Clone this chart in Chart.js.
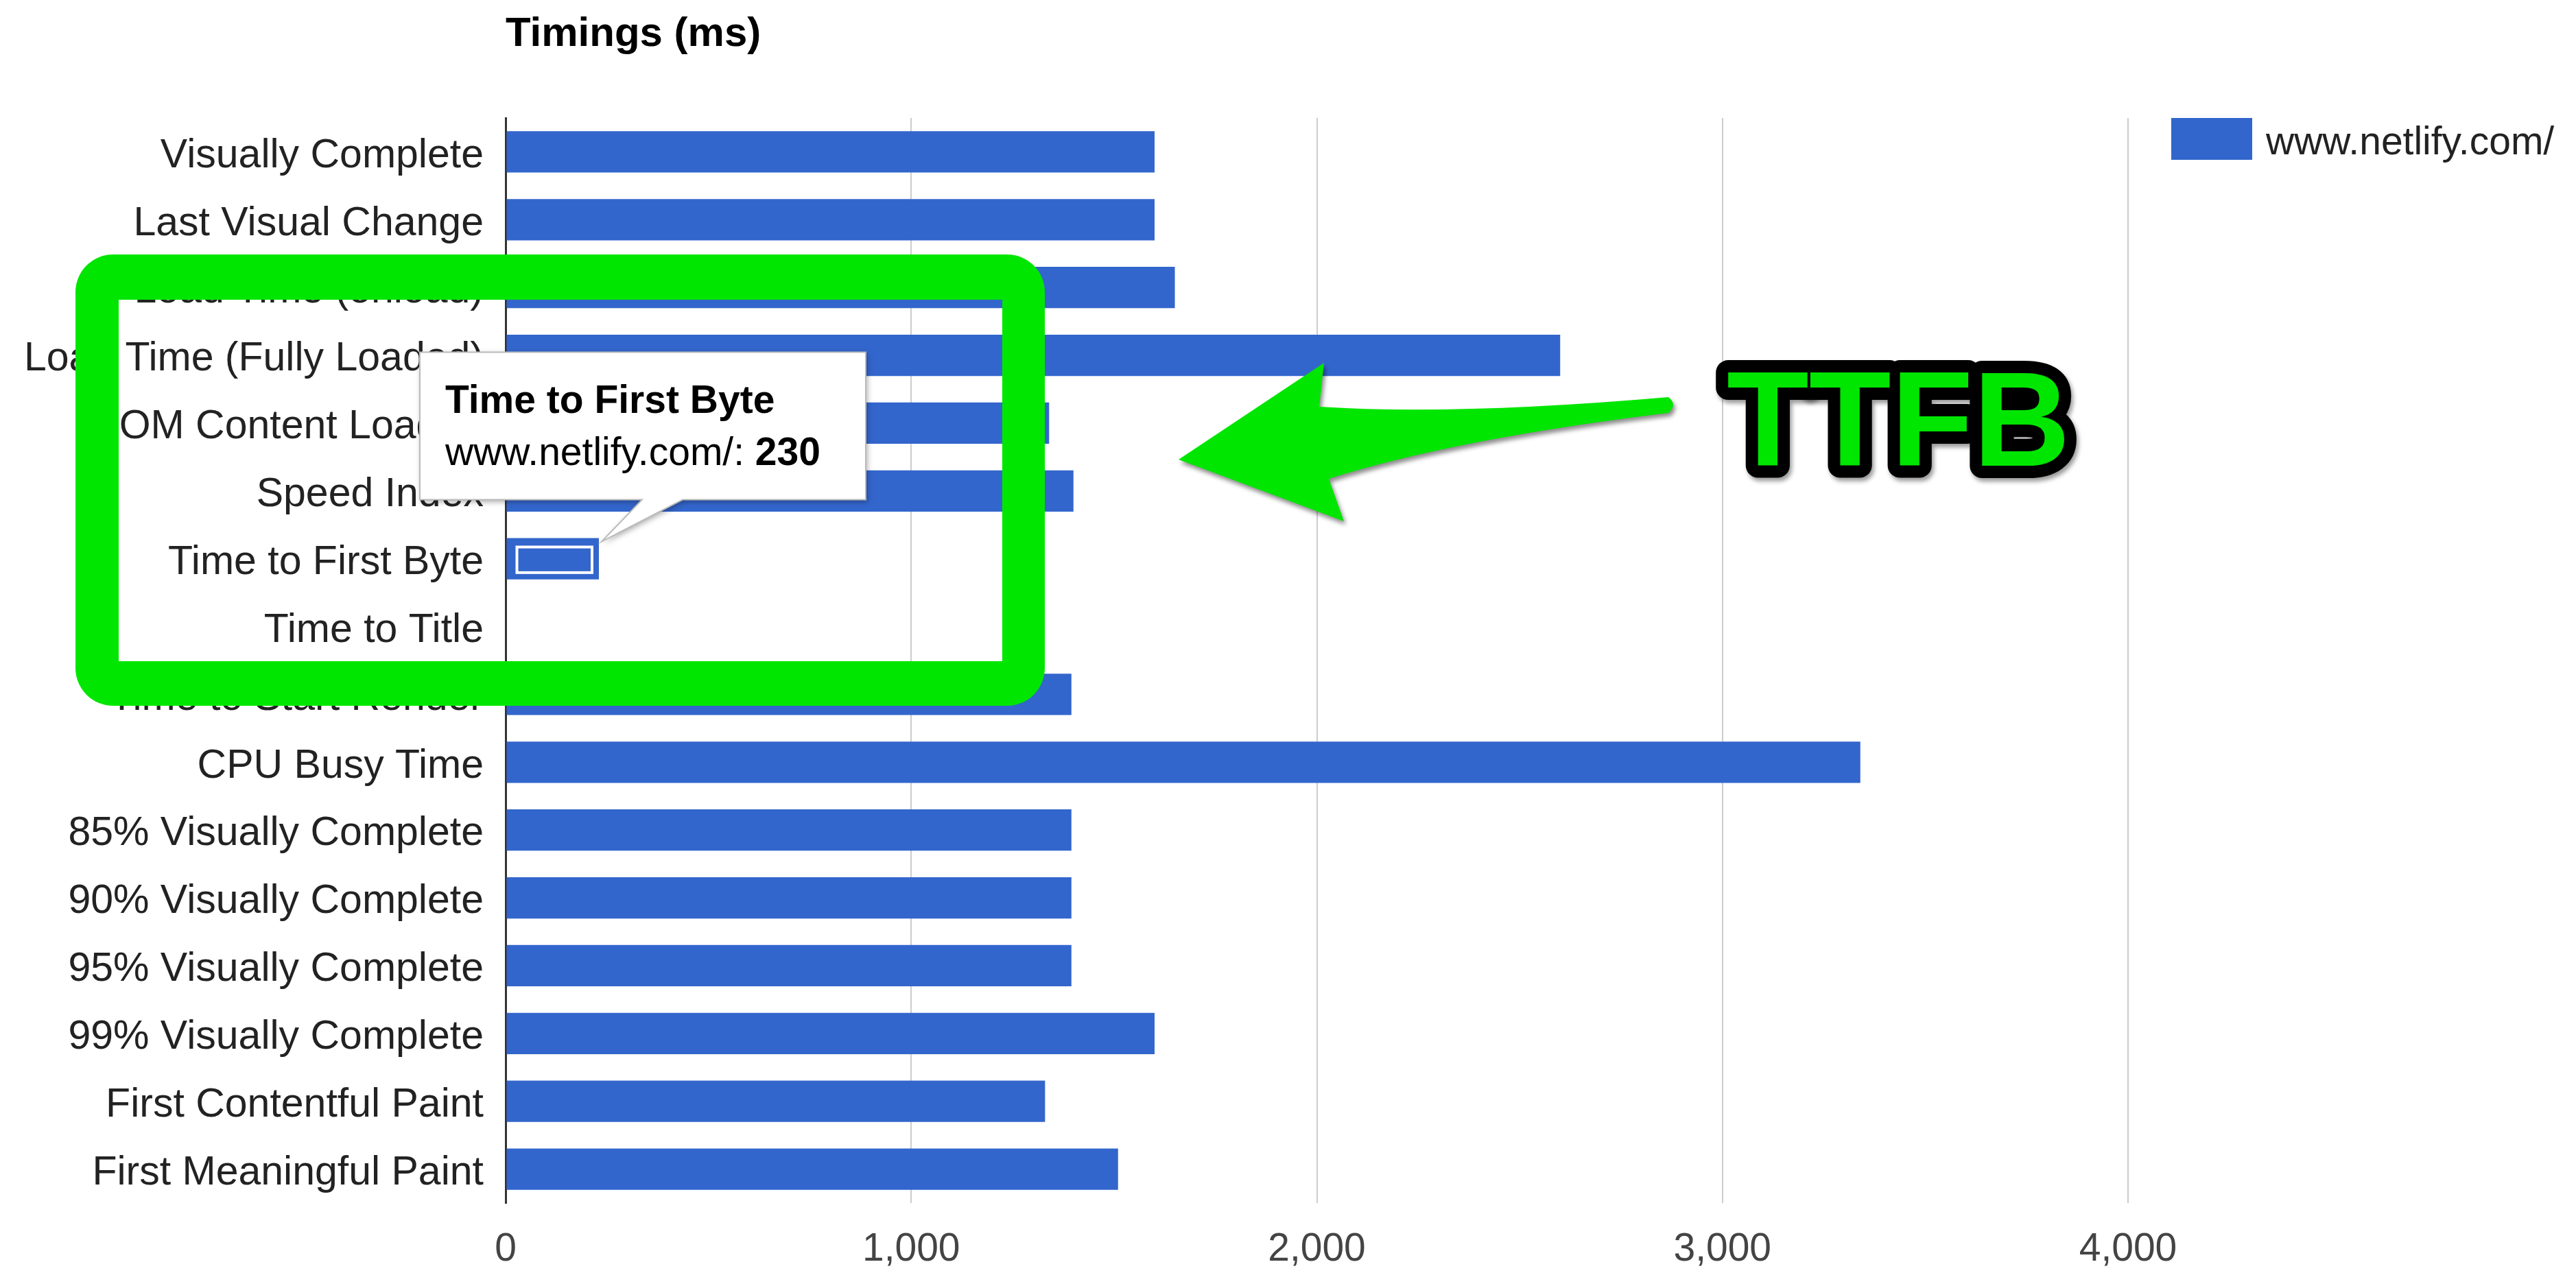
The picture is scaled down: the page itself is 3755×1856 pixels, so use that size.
<!DOCTYPE html>
<html>
<head>
<meta charset="utf-8">
<title>Timings (ms)</title>
<script src="https://cdn.jsdelivr.net/npm/chart.js@4.4.1/dist/chart.umd.min.js"></script>
<style>
  html, body { margin: 0; padding: 0; background: #fff; }
  #wrap { width: 3755px; height: 1856px; }
</style>
</head>
<body>
<div id="wrap"><canvas id="barTimings"></canvas></div>
<script>
// dados do grafico de timings
const categorias = [
    'Visually Complete', 'Last Visual Change', 'Load Time (onload)', 'Load Time (Fully Loaded)',
    'DOM Content Loaded', 'Speed Index', 'Time to First Byte', 'Time to Title',
    'Time to Start Render', 'CPU Busy Time', '85% Visually Complete', '90% Visually Complete',
    '95% Visually Complete', '99% Visually Complete', 'First Contentful Paint', 'First Meaningful Paint'
];
const valoresNetlify = [1600, 1600, 1650, 2600, 1340, 1400, 230, 0, 1395, 3340, 1395, 1395, 1395, 1600, 1330, 1510];
const ticksX = [0, 1000, 2000, 3000, 4000];
const serieNome = 'www.netlify.com/';
const tituloTexto = 'Timings (ms)';
const destaqueIndice = 6; // Time to First Byte
const anotacaoTexto = 'TTFB';

const fonte = "'Liberation Sans', Arial, Helvetica, sans-serif";
const azul = '#3366cc';
const verde = '#00e600';

// titulo, legenda, tooltip e anotacoes em verde
const extrasPlugin = {
    id: 'extras',
    afterDraw(chart) {
        const ctx = chart.ctx;
        const area = chart.chartArea;
        const ds = chart.data.datasets[0];
        const bar = chart.getDatasetMeta(0).data[destaqueIndice];

        ctx.save();
        ctx.textAlign = 'left';

        // titulo
        ctx.fillStyle = '#000';
        ctx.font = 'bold 60px ' + fonte;
        ctx.textBaseline = 'alphabetic';
        ctx.fillText(tituloTexto, area.left, 67);

        // legenda
        ctx.fillStyle = ds.backgroundColor;
        ctx.fillRect(area.right + 63, 172, 118, 61);
        ctx.fillStyle = '#222';
        ctx.font = '57px ' + fonte;
        ctx.textBaseline = 'middle';
        ctx.fillText(ds.label, area.right + 201, 209);

        // barra selecionada
        const top = bar.y - bar.height / 2;
        const w = bar.x - bar.base;
        ctx.strokeStyle = '#fff';
        ctx.lineWidth = 4;
        ctx.strokeRect(bar.base + 15, top + 13, w - 25, bar.height - 23);

        // tooltip
        const tipX = bar.x + 4, tipY = top + 5;
        const bx = tipX - 265, by = tipY - 276, bw = 650, bh = 215;
        ctx.beginPath();
        ctx.moveTo(bx, by);
        ctx.lineTo(bx + bw, by);
        ctx.lineTo(bx + bw, by + bh);
        ctx.lineTo(tipX + 118, by + bh);
        ctx.lineTo(tipX, tipY);
        ctx.lineTo(tipX + 59, by + bh);
        ctx.lineTo(bx, by + bh);
        ctx.closePath();
        ctx.save();
        ctx.shadowColor = 'rgba(0,0,0,0.35)';
        ctx.shadowBlur = 8;
        ctx.shadowOffsetX = 2;
        ctx.shadowOffsetY = 3;
        ctx.fillStyle = '#fff';
        ctx.fill();
        ctx.restore();
        ctx.strokeStyle = '#bbb';
        ctx.lineWidth = 2;
        ctx.stroke();

        ctx.fillStyle = '#000';
        ctx.textBaseline = 'alphabetic';
        ctx.font = 'bold 57px ' + fonte;
        ctx.fillText(chart.data.labels[destaqueIndice], bx + 37, by + 88);
        ctx.font = '57px ' + fonte;
        const prefixo = ds.label + ': ';
        ctx.fillText(prefixo, bx + 37, by + 164);
        const pw = ctx.measureText(prefixo).width;
        ctx.font = 'bold 57px ' + fonte;
        ctx.fillText(String(ds.data[destaqueIndice]), bx + 37 + pw, by + 164);

        // moldura verde
        ctx.beginPath();
        const ox = 110, oy = 371, ow = 1413, oh = 658, r = 55;
        ctx.moveTo(ox + r, oy);
        ctx.arcTo(ox + ow, oy, ox + ow, oy + oh, r);
        ctx.arcTo(ox + ow, oy + oh, ox, oy + oh, r);
        ctx.arcTo(ox, oy + oh, ox, oy, r);
        ctx.arcTo(ox, oy, ox + ow, oy, r);
        ctx.closePath();
        ctx.rect(173, 437, 1288, 527);
        ctx.fillStyle = verde;
        ctx.fill('evenodd');

        // seta verde
        ctx.save();
        ctx.shadowColor = 'rgba(0,0,0,0.45)';
        ctx.shadowBlur = 6;
        ctx.shadowOffsetX = 3;
        ctx.shadowOffsetY = 5;
        ctx.beginPath();
        ctx.moveTo(1718, 670);
        ctx.lineTo(1930, 529);
        ctx.lineTo(1923, 593);
        ctx.quadraticCurveTo(2120, 606, 2432, 579);
        ctx.quadraticCurveTo(2446, 590, 2432, 602);
        ctx.quadraticCurveTo(2120, 640, 1937, 698);
        ctx.lineTo(1959, 760);
        ctx.closePath();
        ctx.fillStyle = verde;
        ctx.fill();
        ctx.restore();

        // texto TTFB
        ctx.font = 'bold 196px ' + fonte;
        ctx.textBaseline = 'alphabetic';
        ctx.lineJoin = 'round';
        ctx.save();
        ctx.shadowColor = 'rgba(0,0,0,0.4)';
        ctx.shadowBlur = 6;
        ctx.shadowOffsetX = 3;
        ctx.shadowOffsetY = 5;
        ctx.strokeStyle = '#000';
        ctx.lineWidth = 36;
        ctx.strokeText(anotacaoTexto, 2517, 679);
        ctx.restore();
        ctx.fillStyle = verde;
        ctx.fillText(anotacaoTexto, 2517, 679);

        ctx.restore();
    }
};

const dadosTimings = {
    labels: categorias,
    datasets: [{
        label: serieNome,
        data: valoresNetlify,
        backgroundColor: azul,
        borderWidth: 0,
        barPercentage: 0.61,
        categoryPercentage: 1.0
    }]
};

const configTimings = {
    type: 'bar',
    data: dadosTimings,
    options: {
        indexAxis: 'y',
        responsive: true,
        maintainAspectRatio: false,
        animation: false,
        layout: {
            padding: { top: 172, right: 653, bottom: 0, left: 0 }
        },
        scales: {
            x: {
                min: ticksX[0],
                max: ticksX[ticksX.length - 1],
                afterBuildTicks: (scale) => {
                    scale.ticks = ticksX.map(v => ({ value: v }));
                },
                afterFit: (scale) => { scale.height = 102; },
                grid: {
                    drawTicks: false,
                    color: (c) => (c.tick && c.tick.value === 0) ? '#333' : '#ccc',
                    lineWidth: (c) => (c.tick && c.tick.value === 0) ? 3 : 2
                },
                border: { display: false },
                ticks: {
                    padding: 34,
                    color: '#444',
                    font: { size: 57, family: fonte }
                }
            },
            y: {
                afterFit: (scale) => { scale.width = 737; },
                grid: { display: false, drawTicks: false },
                border: { display: true, color: '#333', width: 3 },
                ticks: {
                    autoSkip: false,
                    padding: 32,
                    labelOffset: 6,
                    color: '#222',
                    font: { size: 59, family: fonte }
                }
            }
        },
        plugins: {
            legend: { display: false },
            title: { display: false },
            tooltip: { enabled: false }
        }
    },
    plugins: [extrasPlugin]
};

new Chart(document.getElementById('barTimings').getContext('2d'), configTimings);
</script>
</body>
</html>
